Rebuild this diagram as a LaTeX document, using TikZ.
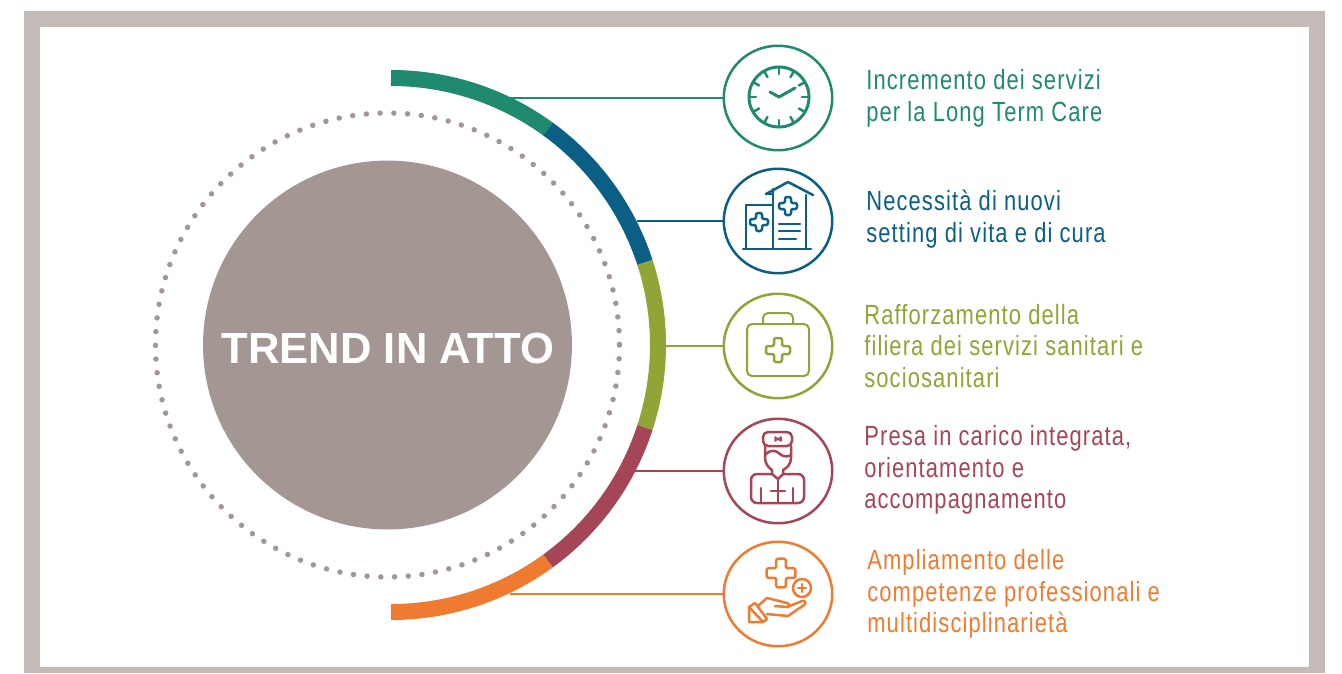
\documentclass[tikz,border=0pt]{standalone}
\usepackage{fontspec}
\usepackage{tikz}
\usetikzlibrary{shapes.geometric}
\setmainfont{Liberation Sans}
\newfontfamily\itemfamily[FakeStretch=0.79, LetterSpace=4]{Liberation Sans}

\definecolor{framegrey}{HTML}{C4BBB9}
\definecolor{trendgrey}{HTML}{A39693}
\definecolor{trendgreen}{HTML}{1F8A6E}
\definecolor{trendblue}{HTML}{0B5F85}
\definecolor{trendolive}{HTML}{8FA535}
\definecolor{trendred}{HTML}{A54657}
\definecolor{trendorange}{HTML}{EE7B30}

\tikzset{
    iconring/.style = {draw, ellipse, line width=0.5mm, minimum width=2.17cm, minimum height=2.09cm, inner sep=0pt},
    iconline/.style = {line width=0.5mm, line join=round, line cap=round},
    connector/.style = {line width=0.4mm},
    arcpart/.style = {line width=0.32cm},
    itemtext/.style = {anchor=west, align=left, inner sep=0pt,
        font=\itemfamily\fontsize{15.8}{18.1}\selectfont},
    crossicon/.pic = {
        \draw[iconline, rounded corners=0.4mm] (-2,-6) -- (-2,-2) -- (-6,-2) -- (-6,2) -- (-2,2) -- (-2,6)
            -- (2,6) -- (2,2) -- (6,2) -- (6,-2) -- (2,-2) -- (2,-6) -- cycle;
    }
}

\begin{document}
\begin{tikzpicture}[x=0.02cm, y=-0.02cm]
    \useasboundingbox (0, 0) rectangle (1342, 673);
    \fill [framegrey] (24, 11) rectangle (1325, 673);
    \fill [white] (40, 27) rectangle (1309, 667);

    % dotted ring and centre
    \draw [trendgrey, line width=1.1mm, line cap=round, dash pattern=on 0pt off 2.75mm] (387.5, 345) circle (232);
    \node (trend) [circle, fill=trendgrey, minimum size=7.38cm, inner sep=0pt] at (387.5, 345) {};
    \node (trendtext) [text=white, inner sep=0pt, font=\bfseries\fontsize{24.8}{28}\selectfont] at (388, 348) {TREND IN ATTO};

    % outer arc
    \draw [arcpart, trendgreen] (391, 78) arc (-90:-54:267);
    \draw [arcpart, trendblue] (391, 345) ++(-54:267) arc (-54:-18:267);
    \draw [arcpart, trendolive] (391, 345) ++(-18:267) arc (-18:18:267);
    \draw [arcpart, trendred] (391, 345) ++(18:267) arc (18:54:267);
    \draw [arcpart, trendorange] (391, 345) ++(54:267) arc (54:90:267);

    % rings
    \node (clockring) [iconring, trendgreen] at (778, 98) {};
    \node (hospitalring) [iconring, trendblue] at (778, 221) {};
    \node (kitring) [iconring, trendolive] at (778, 346) {};
    \node (doctorring) [iconring, trendred] at (778, 471) {};
    \node (handring) [iconring, trendorange] at (778, 594) {};

    \coordinate (clockstart) at (510, 98);
    \coordinate (hospitalstart) at (637, 221);
    \coordinate (kitstart) at (660, 346);
    \coordinate (doctorstart) at (635, 471);
    \coordinate (handstart) at (510, 594);

    \draw [connector, trendgreen] (clockstart) -- (clockring.west);
    \draw [connector, trendblue] (hospitalstart) -- (hospitalring.west);
    \draw [connector, trendolive] (kitstart) -- (kitring.west);
    \draw [connector, trendred] (doctorstart) -- (doctorring.west);
    \draw [connector, trendorange] (handstart) -- (handring.west);

    % clock
    \begin{scope}[shift={(779, 97)}, trendgreen]
        \draw [iconline, line width=0.6mm] (0, 0) circle (30);
        \foreach \a in {0, 30, ..., 330} {
            \draw [iconline] (\a:23) -- (\a:30);
        }
        \draw [iconline, line width=0.6mm] (-9, -5) -- (0, 0) -- (16, -9);
    \end{scope}

    % hospital
    \begin{scope}[shift={(778, 222)}, trendblue]
        \draw [iconline] (-35, 27) -- (33, 27);
        \draw [iconline] (-32, 27) -- (-32, -17) -- (-5, -17);
        \draw [iconline] (-5, 27) -- (-5, -33);
        \draw [iconline] (28, 27) -- (28, -27);
        \draw [iconline] (-12, -28) -- (10, -40) -- (35, -27);
        \draw [iconline] (-12, -28) -- (-5, -28);
        \draw (-19, 0) pic [scale=1.5] {crossicon};
        \draw (10, -16) pic [scale=1.5] {crossicon};
        \draw [iconline] (1, 2) -- (22, 2);
        \draw [iconline] (1, 9) -- (22, 9);
        \draw [iconline] (1, 17) -- (18, 17);
    \end{scope}

    % first aid kit
    \begin{scope}[shift={(778, 347)}, trendolive]
        \draw [iconline, line width=0.4mm, rounded corners=1mm] (-31, -23) rectangle (31, 29);
        \draw [iconline, line width=0.4mm, rounded corners=1mm] (-15, -23) -- (-15, -34) -- (15, -34) -- (15, -23);
        \draw (0, 3) pic [scale=2] {crossicon};
    \end{scope}

    % doctor
    \begin{scope}[shift={(778, 470)}, trendred]
        \draw [iconline, rounded corners=1mm] (-15, -24) -- (-15, -38) -- (14, -38) -- (14, -24) -- cycle;
        \draw [iconline, line width=0.3mm] (-3, -33) -- (-3, -29) -- (3, -33) -- (3, -29) -- cycle;
        \draw [iconline] (-13, -24) -- (-13, -12) .. controls (-13, -6) and (-9, -2) .. (-6, 0);
        \draw [iconline] (13, -24) -- (13, -12) .. controls (13, -6) and (9, -2) .. (5, 0);
        \draw [iconline] (-13, -15) .. controls (-8, -21) and (-2, -20) .. (2, -16)
            .. controls (5, -13) and (10, -13) .. (13, -15);
        \draw [iconline] (-6, 0) -- (-6, 4) -- (0, 9) -- (5, 4) -- (5, 0);
        \draw [iconline, rounded corners=1.2mm] (-6, 4) -- (-27, 4) -- (-27, 33) -- (26, 33) -- (26, 4) -- (5, 4);
        \draw [iconline] (-17, 18) -- (-17, 33);
        \draw [iconline] (15, 18) -- (15, 33);
        \draw [iconline] (0, 9) -- (0, 33);
        \draw [iconline] (-7, 21) -- (7, 21);
    \end{scope}

    % hand
    \begin{scope}[shift={(778, 594)}, trendorange]
        \draw (3, -21) pic [scale=2.4] {crossicon};
        \draw [iconline] (24, -6) circle (9);
        \draw [iconline] (20, -6) -- (28, -6);
        \draw [iconline] (24, -10) -- (24, -2);
        \draw [iconline] (-29, 13) -- (-23, 9) -- (-11, 25) -- (-15, 28) -- (-29, 28) -- cycle;
        \draw [iconline] (-29, 13) -- (-15, 28);
        \draw [iconline] (-20, 12) -- (-11, 4) -- (9, 9) .. controls (12, 10) and (12, 13) .. (9, 13) -- (-3, 12);
        \draw [iconline] (9, 13) -- (24, 7) .. controls (27, 6) and (29, 9) .. (26, 11) -- (10, 22) -- (-11, 20);
    \end{scope}

    % labels
    \node (clocktext) [itemtext, text=trendgreen] at (866, 98) {Incremento dei servizi\\per la Long Term Care};
    \node (hospitaltext) [itemtext, text=trendblue] at (866, 219) {Necessità di nuovi\\setting di vita e di cura};
    \node (kittext) [itemtext, text=trendolive] at (864, 346) {Rafforzamento della\\filiera dei servizi sanitari e\\sociosanitari};
    \node (doctortext) [itemtext, text=trendred] at (864, 470) {Presa in carico integrata,\\orientamento e\\accompagnamento};
    \node (handtext) [itemtext, text=trendorange] at (867, 594) {Ampliamento delle\\competenze professionali e\\multidisciplinarietà};
\end{tikzpicture}
\end{document}
